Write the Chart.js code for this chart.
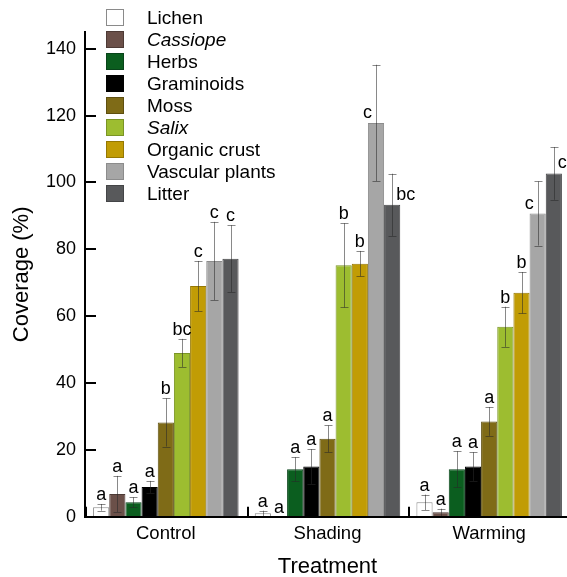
<!DOCTYPE html>
<html>
<head>
<meta charset="utf-8">
<script src="https://cdn.jsdelivr.net/npm/chart.js@4.4.1/dist/chart.umd.min.js"></script>
<style>
html,body{margin:0;padding:0;overflow:hidden;background:#fff;}
</style>
</head>
<body>
<canvas id="graf1" width="570" height="580"></canvas>
<script>
const TRATAMENTOS = ['Control','Shading','Warming'];
const GRUPOS = ['Lichen','Cassiope','Herbs','Graminoids','Moss','Salix','Organic crust','Vascular plants','Litter'];
const Y_TICKS = [0,20,40,60,80,100,120,140];

// media e erro por tratamento, na ordem de GRUPOS
const MEDIA_CONTROL = [2.8, 6.8, 4.3, 8.9, 28.2, 49.0, 69.0, 76.5, 77.2];
const MEDIA_SHADING = [1.0, 0, 14.2, 15.0, 23.3, 75.2, 75.7, 117.8, 93.3];
const MEDIA_WARMING = [4.3, 1.3, 14.2, 15.0, 28.5, 56.8, 67.0, 90.7, 102.7];
const ERRO_CONTROL = [1.0, 5.4, 1.5, 1.8, 7.2, 4.2, 7.5, 11.7, 10.0];
const ERRO_SHADING = [0.8, 0, 3.6, 5.2, 4.0, 12.6, 3.8, 17.4, 9.3];
const ERRO_WARMING = [2.3, 1.1, 5.4, 4.3, 4.3, 6.0, 6.2, 9.6, 7.9];
const LETRA_CONTROL = ['a','a','a','a','b','bc','c','c','c'];
const LETRA_SHADING = ['a','a','a','a','a','b','b','c','bc'];
const LETRA_WARMING = ['a','a','a','a','a','b','b','c','c'];

const COR = ['#ffffff','#6b5049','#0b5e1f','#000000','#7f6b17','#9dbd30','#c19c05','#a6a6a6','#58595b'];
const BORDA = ['#8a8a8a','#4d3a35','#08441a','#000000','#5e4f10','#7a9425','#957803','#8c8c8c','#444547'];
const ITALICO = ['Cassiope','Salix'];
// letras deslocadas para o lado da barra (tratamento,grupo): -1 esquerda, 1 direita
const LADO = {'1,7':-1, '1,8':1, '2,7':-1, '2,8':1};
const FONTE = '"Liberation Sans", Arial, sans-serif';

const MEDIAS = [MEDIA_CONTROL, MEDIA_SHADING, MEDIA_WARMING];
const ERROS = [ERRO_CONTROL, ERRO_SHADING, ERRO_WARMING];
const LETRAS = [LETRA_CONTROL, LETRA_SHADING, LETRA_WARMING];

const extras = {
    id: 'extras',
    afterDatasetsDraw(chart){
        const ctx = chart.ctx;
        const y = chart.scales.y;
        ctx.save();
        chart.data.datasets.forEach((ds, i) => {
            chart.getDatasetMeta(i).data.forEach((bar, j) => {
                const v = MEDIAS[j][i], e = ERROS[j][i];
                const bx = Math.round(bar.x) + 0.5;
                const yTop = y.getPixelForValue(v + e);
                if(e > 0){
                    const yBot = y.getPixelForValue(v - e);
                    ctx.strokeStyle = 'rgba(40,40,40,0.55)';
                    ctx.lineWidth = 1;
                    ctx.beginPath();
                    ctx.moveTo(bx, yTop); ctx.lineTo(bx, yBot);
                    ctx.moveTo(bx - 4, Math.round(yTop) + 0.5); ctx.lineTo(bx + 4, Math.round(yTop) + 0.5);
                    ctx.moveTo(bx - 4, Math.round(yBot) + 0.5); ctx.lineTo(bx + 4, Math.round(yBot) + 0.5);
                    ctx.stroke();
                }
                ctx.font = '18px ' + FONTE;
                ctx.fillStyle = '#000';
                ctx.textAlign = 'center';
                ctx.textBaseline = 'alphabetic';
                const txt = LETRAS[j][i];
                const lado = LADO[j + ',' + i];
                if(lado){
                    const w = ctx.measureText(txt).width;
                    ctx.fillText(txt, bar.x + lado * (w / 2 + 4), bar.y - 5);
                } else {
                    ctx.fillText(txt, bar.x, yTop - 4);
                }
            });
        });
        ctx.restore();
    },
    afterDraw(chart){
        const ctx = chart.ctx;
        const x = chart.scales.x, y = chart.scales.y;
        const area = chart.chartArea;
        ctx.save();
        ctx.strokeStyle = '#000';
        ctx.lineWidth = 2;
        ctx.beginPath();
        // ticks internos do eixo y
        y.ticks.forEach(t => {
            const py = Math.round(y.getPixelForValue(t.value));
            ctx.moveTo(area.left, py); ctx.lineTo(area.left + 11, py);
        });
        // ticks entre tratamentos
        const meio = (x.getPixelForValue(1) - x.getPixelForValue(0)) / 2;
        for(let i = 0; i < TRATAMENTOS.length; i++){
            const px = Math.round(x.getPixelForValue(i) - meio) + 1;
            ctx.moveTo(px, area.bottom); ctx.lineTo(px, area.bottom - 10);
        }
        ctx.stroke();
        // legenda
        GRUPOS.forEach((g, i) => {
            const cy = 17.5 + 22 * i;
            ctx.fillStyle = COR[i];
            ctx.fillRect(106, cy - 8.5, 18, 17);
            ctx.strokeStyle = BORDA[i];
            ctx.lineWidth = 1;
            ctx.strokeRect(106.5, cy - 8, 17, 16);
            ctx.fillStyle = '#000';
            ctx.font = (ITALICO.includes(g) ? 'italic ' : '') + '19px ' + FONTE;
            ctx.textAlign = 'left';
            ctx.textBaseline = 'middle';
            ctx.fillText(g, 147, cy + 1);
        });
        ctx.restore();
    }
};

function grafico(){
    let ctx = document.getElementById('graf1');
    let datasets = GRUPOS.map((g, i) => ({
        label: g,
        data: MEDIAS.map(m => m[i]),
        backgroundColor: COR[i],
        borderColor: BORDA[i],
        borderWidth: 1,
        categoryPercentage: 0.9,
        barPercentage: 1.0
    }));
    let config = {
        type: 'bar',
        data: { labels: TRATAMENTOS, datasets: datasets },
        options: {
            responsive: false,
            animation: false,
            layout: { padding: { top: 32, left: 0, right: 0, bottom: 0 } },
            scales: {
                x: {
                    offset: true,
                    grid: { display: false, drawTicks: false },
                    border: { color: '#000', width: 2, z: 1 },
                    ticks: { color: '#000', font: { size: 18.5, family: FONTE }, padding: 6 },
                    title: { display: true, text: 'Treatment', color: '#000', font: { size: 22, family: FONTE }, padding: { top: 0, bottom: 0 } },
                    afterFit(s){ s.height = 63.3; }
                },
                y: {
                    min: 0,
                    max: 145,
                    grid: { display: false, drawTicks: false },
                    border: { color: '#000', width: 2, z: 1 },
                    ticks: { color: '#000', font: { size: 18, family: FONTE }, padding: 9 },
                    title: { display: true, text: 'Coverage (%)', color: '#000', font: { size: 22, family: FONTE }, padding: { top: 9, bottom: 0 } },
                    afterBuildTicks(s){ s.ticks = Y_TICKS.map(v => ({ value: v })); },
                    afterFit(s){ s.width = 85; }
                }
            },
            plugins: {
                legend: { display: false },
                tooltip: { enabled: false }
            }
        },
        plugins: [extras]
    };
    new Chart(ctx, config);
}
grafico();
</script>
</body>
</html>
